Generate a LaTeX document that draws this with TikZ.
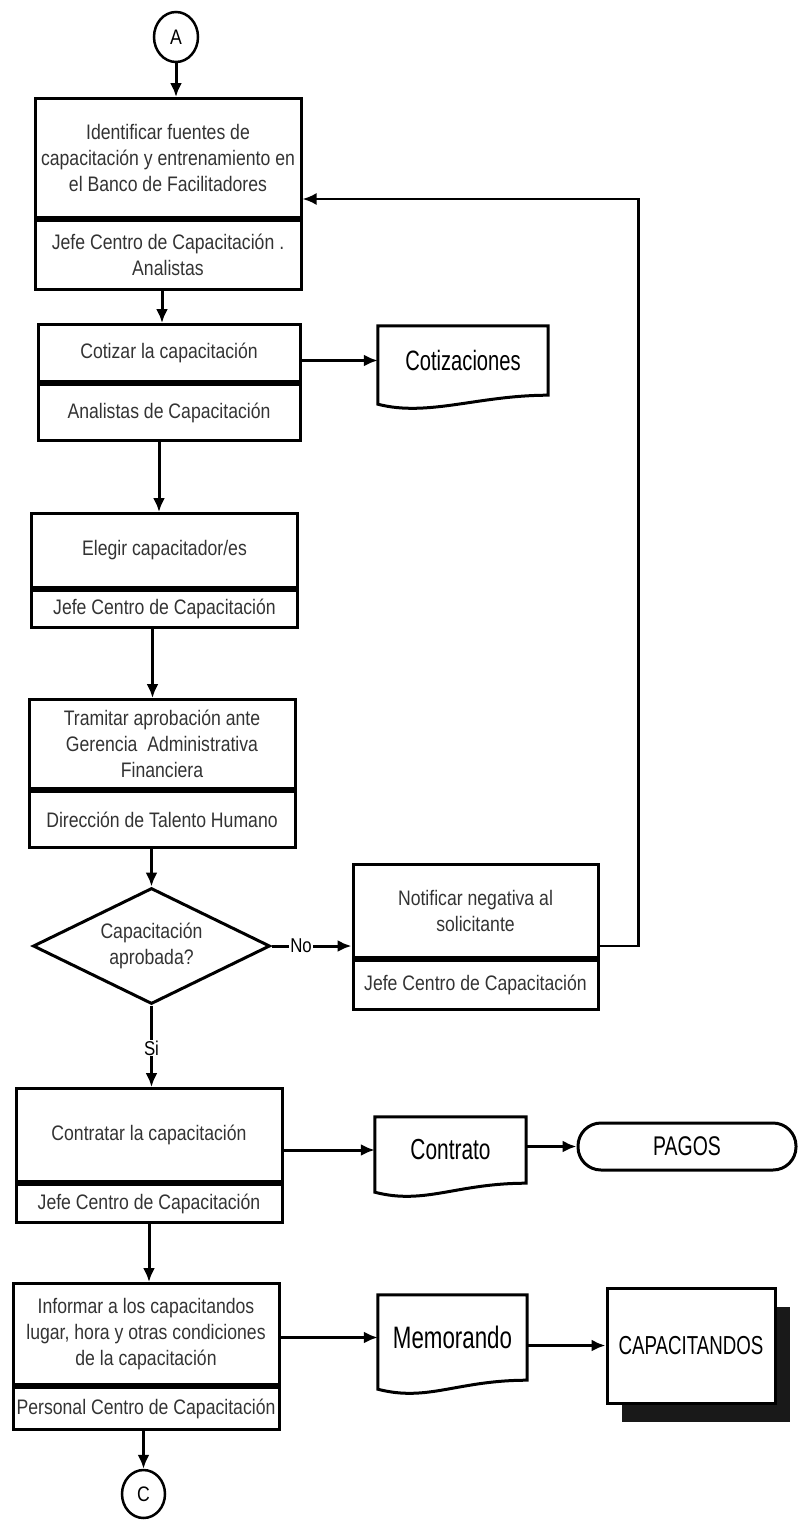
\documentclass[tikz,border=0pt]{standalone}
\usepackage{fontspec}
\setmainfont{Liberation Sans}[FakeStretch=0.84]
\newfontfamily\angosta{Liberation Sans}[FakeStretch=0.72]
\usetikzlibrary{positioning,shapes.geometric,shadows,arrows.meta}
\newcommand{\letra}{\fontsize{21}{26}\selectfont}
\newcommand{\documento}[1]{%
  \draw [line width=3pt] (#1.north west) -- (#1.north east) -- (#1.south east)
    .. controls +(-70,0) and +(50,13) .. ([yshift=-9pt]#1.south west) -- cycle;}
\tikzset{
    caja/.style={draw,line width=3pt,align=center,minimum width=266pt,
                 inner sep=0pt,font=\letra,text=black!80},
    conector/.style={draw,ellipse,line width=2.5pt,inner sep=0pt,font=\letra},
    decision/.style={draw,diamond,shape aspect=2,line width=3pt,align=center,
                 inner sep=0pt,font=\letra,text=black!80},
    doc/.style={inner sep=0pt,font=\angosta\fontsize{#1}{#1}\selectfont},
    flecha/.style={->,line width=3pt},
    etiqueta/.style={fill=white,inner sep=1pt,font=\fontsize{20}{22}\selectfont},
}

\begin{document}
\begin{tikzpicture}[x=1pt,y=-1pt,>={Latex[length=14pt,width=12pt]}]
\useasboundingbox (0,0) rectangle (798,1528);
% conectores de pagina
\node [conector,minimum width=44pt,minimum height=50pt] (A) at (176,37) {A};
\node [conector,minimum width=43pt,minimum height=48pt] (C) at (143.5,1494) {C};
% actividades
\node [caja,anchor=north,minimum height=119pt] (identificar) at (168,97)
    {Identificar fuentes de\\capacitación y entrenamiento en\\el Banco de Facilitadores};
\node [caja,below=0pt of identificar,minimum height=69pt] (identificar-r)
    {Jefe Centro de Capacitación .\\Analistas};
\node [caja,anchor=north,minimum width=262pt,minimum height=57pt] (cotizar) at (169,323)
    {Cotizar la capacitación};
\node [caja,below=0pt of cotizar,minimum width=262pt,minimum height=56pt] (cotizar-r)
    {Analistas de Capacitación};
\node [caja,anchor=north,minimum height=74pt] (elegir) at (164.5,512)
    {Elegir capacitador/es};
\node [caja,below=0pt of elegir,minimum height=37pt] (elegir-r)
    {Jefe Centro de Capacitación};
\node [caja,anchor=north,minimum height=89pt] (tramitar) at (162,698)
    {Tramitar aprobación ante\\Gerencia~ Administrativa\\Financiera};
\node [caja,below=0pt of tramitar,minimum height=56pt] (tramitar-r)
    {Dirección de Talento Humano};
\node [decision,minimum width=237pt,minimum height=116pt] (aprobada) at (151.5,946)
    {Capacitación\\aprobada?};
\node [caja,anchor=north,minimum width=245pt,minimum height=93pt] (notificar) at (475.5,863)
    {Notificar negativa al\\solicitante};
\node [caja,below=0pt of notificar,minimum width=245pt,minimum height=49pt] (notificar-r)
    {Jefe Centro de Capacitación};
\node [caja,anchor=north,minimum height=93pt] (contratar) at (149,1087)
    {Contratar la capacitación};
\node [caja,below=0pt of contratar,minimum height=38pt] (contratar-r)
    {Jefe Centro de Capacitación};
\node [caja,anchor=north,minimum height=101pt] (informar) at (146,1282)
    {Informar a los capacitandos\\lugar, hora y otras condiciones\\de la capacitación};
\node [caja,below=0pt of informar,minimum height=42pt] (informar-r)
    {Personal Centro de Capacitación};
% documentos
\node [doc=28,minimum width=170pt,minimum height=69pt] (cotizaciones) at (463,360.5) {Cotizaciones};
\node [doc=29,minimum width=151pt,minimum height=66pt] (contrato) at (450.5,1150) {Contrato};
\node [doc=31,minimum width=149pt,minimum height=85pt] (memorando) at (452.5,1337.5) {Memorando};
\documento{cotizaciones}
\documento{contrato}
\documento{memorando}
\node [doc=27,draw,line width=3pt,rounded corners=23pt,minimum width=218pt,
       minimum height=47pt] (pagos) at (687,1146.5) {PAGOS};
\node [doc=26,draw,line width=3pt,fill=white,minimum width=168pt,minimum height=115pt,
       drop shadow={shadow xshift=15pt,shadow yshift=-19pt,opacity=1,fill=black!90}]
       (capacitandos) at (691,1345.5) {CAPACITANDOS};
% flujo
\draw [flecha] (A) -- (A |- identificar.north);
\draw [flecha] ([xshift=-6pt]identificar-r.south) -- ([xshift=-6pt]identificar-r.south |- cotizar.north);
\draw [flecha] ([xshift=-10pt]cotizar-r.south) -- ([xshift=-10pt]cotizar-r.south |- elegir.north);
\draw [flecha] ([xshift=-12pt]elegir-r.south) -- ([xshift=-12pt]elegir-r.south |- tramitar.north);
\draw [flecha] (tramitar-r.south -| aprobada.north) -- (aprobada.north);
\draw [flecha] (aprobada.south) -- (aprobada.south |- contratar.north)
    node [etiqueta,pos=0.52] {Si};
\draw [flecha] (aprobada.east) -- (aprobada.east -| notificar.west)
    node [etiqueta,pos=0.37] {No};
\draw [->,line width=2.5pt] (notificar.east |- aprobada) -- ++(39,0)
    |- ([yshift=-41pt]identificar.east);
\draw [flecha] (contratar-r.south) -- (contratar-r.south |- informar.north);
\draw [flecha] (informar-r.south -| C) -- (C);
\draw [flecha] (cotizar.east |- cotizaciones) -- (cotizaciones.west);
\draw [flecha] (contratar.east |- contrato) -- (contrato.west);
\draw [flecha] (contrato.east |- pagos) -- (pagos.west);
\draw [flecha] (informar.east |- memorando) -- (memorando.west);
\draw [flecha] (memorando.east |- capacitandos) -- (capacitandos.west);
\end{tikzpicture}
\end{document}
